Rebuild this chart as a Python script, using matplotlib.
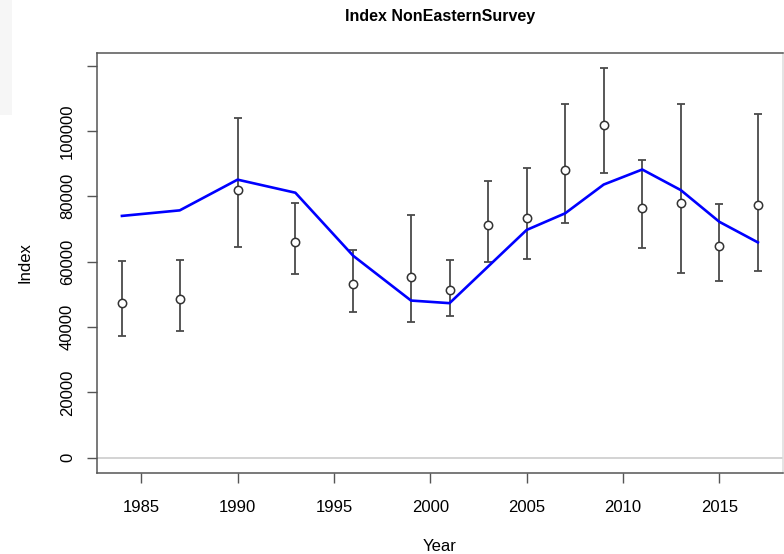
import numpy as np
import matplotlib
matplotlib.use("Agg")
import matplotlib.pyplot as plt
from matplotlib.patches import Rectangle

# Survey index: observed values with error bars, plus fitted line
years = [1984, 1987, 1990, 1993, 1996, 1999, 2001, 2003, 2005, 2007, 2009, 2011, 2013, 2015, 2017]
observed = [47300, 48600, 81900, 66000, 53300, 55400, 51300, 71200, 73400, 88200, 101900, 76500, 78100, 64800, 77300]
upper = [60200, 60500, 104000, 77800, 63600, 74400, 60500, 84700, 88600, 108200, 119200, 91100, 108200, 77500, 105100]
lower = [37300, 38800, 64500, 56100, 44600, 41400, 43400, 59900, 60700, 71800, 87100, 64100, 56500, 54200, 57100]
fitted = [74000, 75700, 85100, 81100, 61800, 48100, 47300, 58500, 69700, 74800, 83600, 88200, 81900, 72200, 65900]

x_ticks = [1985, 1990, 1995, 2000, 2005, 2010, 2015]
y_ticks = [0, 20000, 40000, 60000, 80000, 100000, 120000]
y_tick_labels = ["0", "20000", "40000", "60000", "80000", "100000", ""]

plt.rcParams['font.family'] = ['Liberation Sans', 'DejaVu Sans']

fig = plt.figure(figsize=(7.84, 5.54), dpi=100)
fig.patches.append(Rectangle((0, 554 - 115), 12, 115, transform=None,
                             facecolor='#f6f6f6', edgecolor='none', zorder=0))
ax = fig.add_axes([96.5 / 784, (554 - 473.3) / 554, (783.3 - 96.5) / 784, (473.3 - 52.7) / 554])

obs = np.array(observed)
err = [obs - np.array(lower), np.array(upper) - obs]

ax.axhline(0, color='#cccccc', lw=1.2, zorder=1)
ax.errorbar(years, observed, yerr=err, fmt='none', ecolor='#4a4a4a',
            elinewidth=1.3, capsize=3, capthick=1.3, zorder=2)
ax.plot(years, fitted, color='#0000ff', lw=1.9, zorder=3)
ax.plot(years, observed, 'o', mfc='white', mec='#333333', mew=1.1, ms=6, zorder=4)

ax.set_xlim(1982.68, 2018.32)
ax.set_ylim(-4770, 123950)
ax.set_xticks(x_ticks)
ax.set_yticks(y_ticks)
ax.set_yticklabels(y_tick_labels, rotation=90, va='center')

ax.tick_params(axis='both', length=7.5, width=1.0, color='#555555', labelsize=12)
ax.tick_params(axis='x', pad=12)
ax.tick_params(axis='y', pad=8)

for side in ['left', 'top', 'bottom']:
    ax.spines[side].set_color('#555555')
    ax.spines[side].set_linewidth(1.1)
ax.spines['right'].set_color('#dddddd')
ax.spines['right'].set_linewidth(1.1)

ax.set_title('Index NonEasternSurvey', fontsize=11.5, fontweight='bold', pad=23)
ax.set_xlabel('Year', fontsize=12, labelpad=17)
ax.set_ylabel('Index', fontsize=12, labelpad=20)

fig.savefig('out.png', dpi=100)
